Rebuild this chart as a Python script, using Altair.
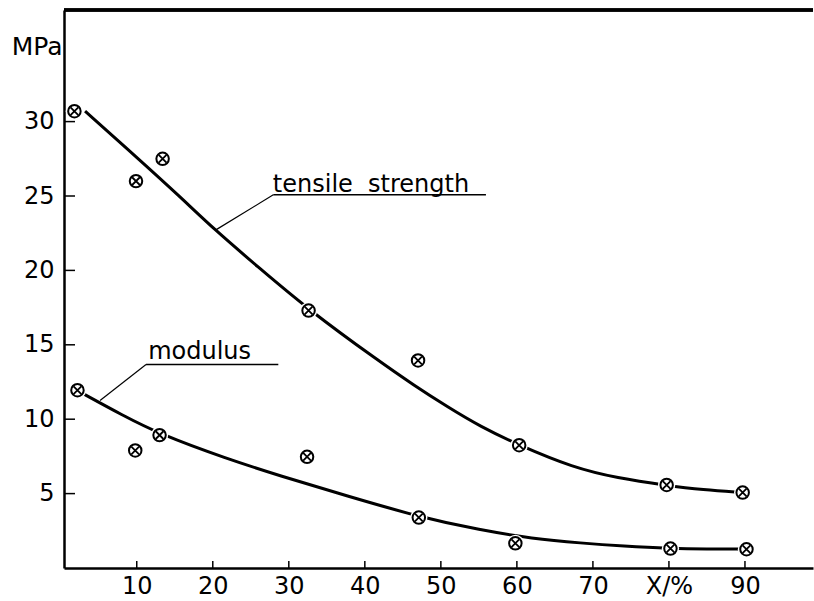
import altair as alt
import pandas as pd

# ---- data ----
ts_x = [1.8, 9.9, 13.4, 32.6, 47.0, 60.3, 79.7, 89.7]
ts_y = [30.7, 26.0, 27.5, 17.3, 13.95, 8.25, 5.58, 5.07]
mod_x = [2.2, 9.8, 13.0, 32.4, 47.1, 59.8, 80.2, 90.2]
mod_y = [11.95, 7.9, 8.93, 7.47, 3.39, 1.66, 1.31, 1.26]

ts_curve_x = [3.2, 10.0, 15.6, 20.2, 25.8, 32.6, 42.0, 46.4, 50.8, 55.2, 60.3, 67.4, 73.2, 79.7, 84.5, 89.5]
ts_curve_y = [30.7, 27.6, 25.0, 22.75, 20.3, 17.35, 13.85, 12.3, 10.85, 9.5, 8.25, 6.75, 6.05, 5.55, 5.25, 5.07]
mod_curve_x = [3.0, 8.0, 13.0, 21.8, 28.8, 37.6, 47.2, 55.2, 62.0, 68.5, 74.0, 80.2, 85.0, 89.8]
mod_curve_y = [11.7, 10.3, 9.0, 7.35, 6.2, 4.85, 3.42, 2.55, 1.98, 1.67, 1.47, 1.31, 1.27, 1.27]

x_ticks = [10, 20, 30, 40, 50, 60, 70, 80, 90]
y_ticks = [5, 10, 15, 20, 25, 30]

labels = ["tensile\u00a0 strength", "modulus"]
label_x = [27.9, 11.5]
label_y = [25.3, 14.06]
under_x1 = [27.96, 11.22]
under_x2 = [55.93, 28.62]
under_y = [25.08, 13.68]
leader_x1 = [20.3, 5.17]
leader_y1 = [22.69, 11.26]

X_DOM = [0.43, 98.95]
Y_DOM = [0, 37.5]
W, H = 749, 558
FONT = "DejaVu Sans"

xs = alt.Scale(domain=X_DOM, nice=False, zero=False)
ys = alt.Scale(domain=Y_DOM, nice=False, zero=False)

pts = pd.DataFrame({
    "x": ts_x + mod_x,
    "y": ts_y + mod_y,
    "s": ["t"] * len(ts_x) + ["m"] * len(mod_x),
})
curves = pd.DataFrame({
    "x": ts_curve_x + mod_curve_x,
    "y": ts_curve_y + mod_curve_y,
    "s": ["t"] * len(ts_curve_x) + ["m"] * len(mod_curve_x),
})
ann = pd.DataFrame({
    "label": labels, "lx": label_x, "ly": label_y,
    "ux1": under_x1, "ux2": under_x2, "uy": under_y,
    "kx": leader_x1, "ky": leader_y1,
})
xt = pd.DataFrame({"v": x_ticks})
yt = pd.DataFrame({"v": y_ticks})

base_x = alt.X("x:Q", scale=xs, axis=alt.Axis(
    title=None, values=x_ticks, ticks=False, tickSize=0, grid=False,
    domainColor="black", domainWidth=2.5, labelFont=FONT, labelFontSize=24,
    labelColor="black", labelPadding=6,
    labelExpr="datum.value == 80 ? 'X/%' : datum.label"))
base_y = alt.Y("y:Q", scale=ys, axis=alt.Axis(
    title="MPa", values=y_ticks, ticks=False, tickSize=0, grid=False,
    domainColor="black", domainWidth=2.5, labelFont=FONT, labelFontSize=24,
    labelColor="black", labelPadding=10, labelBaseline="middle",
    titleAngle=0, titleAlign="right", titleBaseline="middle", titleX=-2,
    titleY=36, titleFont=FONT, titleFontSize=25, titleFontWeight="normal",
    titleColor="black"))

lines = alt.Chart(curves).mark_line(
    interpolate="basis", color="black", strokeWidth=3
).encode(x=base_x, y=base_y, detail="s:N")

halo = alt.Chart(pts).mark_point(
    shape="circle", filled=True, color="white", opacity=1, size=300, strokeWidth=0
).encode(x=alt.X("x:Q", scale=xs), y=alt.Y("y:Q", scale=ys))

circ = alt.Chart(pts).mark_point(
    shape="circle", filled=False, color="black", opacity=1, size=156, strokeWidth=2
).encode(x=alt.X("x:Q", scale=xs), y=alt.Y("y:Q", scale=ys))

cross = alt.Chart(pts).mark_point(
    shape="M-0.62,-0.62L0.62,0.62M-0.62,0.62L0.62,-0.62",
    filled=False, color="black", opacity=1, size=156, strokeWidth=1.8
).encode(x=alt.X("x:Q", scale=xs), y=alt.Y("y:Q", scale=ys))

top_border = alt.Chart(xt).mark_rule(color="black", strokeWidth=2.5).encode(
    x=alt.value(0), x2=alt.value(W), y=alt.value(0))

ytick = alt.Chart(yt).mark_rule(color="black", strokeWidth=1.5).encode(
    y=alt.Y("v:Q", scale=ys), x=alt.value(0), x2=alt.value(11))
xtick = alt.Chart(xt).mark_rule(color="black", strokeWidth=1.5).encode(
    x=alt.X("v:Q", scale=xs), y=alt.value(H), y2=alt.value(H - 7))

underline = alt.Chart(ann).mark_rule(color="black", strokeWidth=1.5).encode(
    x=alt.X("ux1:Q", scale=xs), x2="ux2:Q", y=alt.Y("uy:Q", scale=ys))
leader = alt.Chart(ann).mark_rule(color="black", strokeWidth=1.2).encode(
    x=alt.X("kx:Q", scale=xs), x2="ux1:Q",
    y=alt.Y("ky:Q", scale=ys), y2="uy:Q")
text = alt.Chart(ann).mark_text(
    align="left", baseline="alphabetic", font=FONT, fontSize=24, color="black"
).encode(x=alt.X("lx:Q", scale=xs), y=alt.Y("ly:Q", scale=ys), text="label:N")

chart = alt.layer(
    lines, halo, circ, cross, top_border, ytick, xtick, underline, leader, text
).properties(
    width=W, height=H,
    padding={"left": 64, "top": 10, "right": 1, "bottom": 33},
    autosize=alt.AutoSizeParams(type="none"),
    background="white",
).configure_view(strokeWidth=0)

chart.save("out.html", embed_options={"renderer": "svg", "actions": False})
